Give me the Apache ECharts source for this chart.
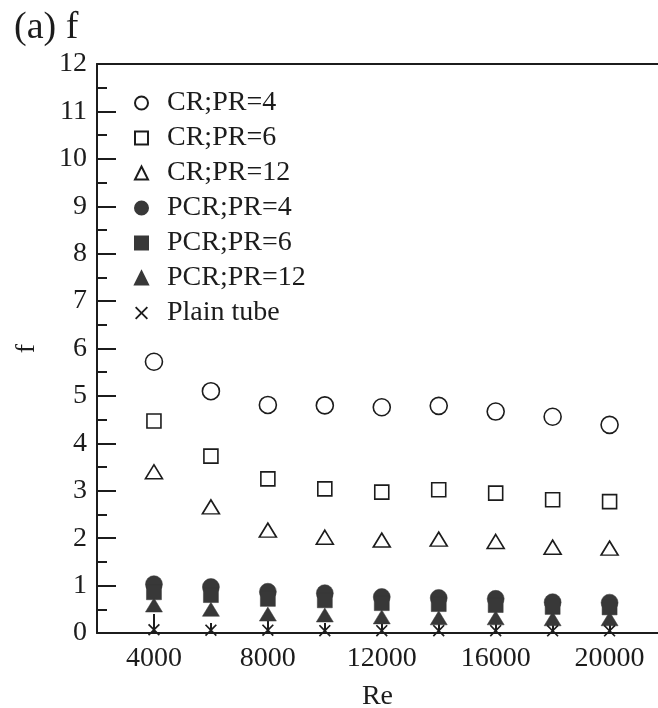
<!DOCTYPE html>
<html>
<head>
<meta charset="utf-8">
<style>
  html, body { margin: 0; padding: 0; background: #fff; }
  #chart { width: 658px; height: 708px; }
</style>
<script src="https://cdn.jsdelivr.net/npm/echarts@6/dist/echarts.min.js"></script>
</head>
<body>
<div id="chart"></div>
<script>
// Friction factor f versus Reynolds number
const reynolds = [4000, 6000, 8000, 10000, 12000, 14000, 16000, 18000, 20000];
const crPr4   = [5.72, 5.10, 4.81, 4.80, 4.76, 4.79, 4.67, 4.56, 4.39];
const crPr6   = [4.47, 3.73, 3.25, 3.04, 2.97, 3.02, 2.95, 2.81, 2.77];
const crPr12  = [3.40, 2.66, 2.17, 2.02, 1.96, 1.98, 1.93, 1.81, 1.79];
const pcrPr4  = [1.03, 0.97, 0.87, 0.84, 0.76, 0.74, 0.72, 0.65, 0.64];
const pcrPr6  = [0.86, 0.80, 0.72, 0.69, 0.63, 0.61, 0.59, 0.55, 0.54];
const pcrPr12 = [0.59, 0.50, 0.40, 0.38, 0.34, 0.32, 0.32, 0.30, 0.30];
const plainTube = [0.07, 0.06, 0.06, 0.05, 0.05, 0.05, 0.05, 0.045, 0.045];

const seriesNames = ['CR;PR=4', 'CR;PR=6', 'CR;PR=12', 'PCR;PR=4', 'PCR;PR=6', 'PCR;PR=12', 'Plain tube'];
const xMajorTicks = [4000, 8000, 12000, 16000, 20000];
const xMinorTicks = [6000, 10000, 14000, 18000];

// visible Re range: the frame runs past the right edge of the page
const RE_MIN = 2000;
const RE_MAX = 21700;

const FONT = '"Liberation Serif", "Times New Roman", serif';
const INK = '#1c1c1c';
const FILL = '#383838';
const CROSS = 'path://M0,1L1,0L5,4L9,0L10,1L6,5L10,9L9,10L5,6L1,10L0,9L4,5Z';

function pairs(ys) { return reynolds.map((x, i) => [x, ys[i]]); }

function openSeries(name, ys, symbol, size) {
  return {
    name, type: 'scatter', data: pairs(ys), symbol, symbolSize: size,
    itemStyle: { color: '#fff', borderColor: INK, borderWidth: 1.6, opacity: 1 }
  };
}
function filledSeries(name, ys, symbol, size) {
  return {
    name, type: 'scatter', data: pairs(ys), symbol, symbolSize: size,
    itemStyle: { color: FILL, borderColor: FILL, borderWidth: 0.5, opacity: 1 }
  };
}

const chart = echarts.init(document.getElementById('chart'), null, { renderer: 'canvas' });

chart.setOption({
  backgroundColor: '#fff',
  animation: false,
  grid: { left: 97, top: 64, right: 0, bottom: 75, outerBoundsMode: 'none', containLabel: false },
  graphic: [{
    type: 'text', left: 14, top: 9,
    style: { text: '(a) f', font: '38px ' + FONT, fill: INK }
  }],
  legend: {
    orient: 'vertical', left: 129, top: 84,
    itemWidth: 13, itemHeight: 13, itemGap: 7,
    data: seriesNames,
    textStyle: { fontFamily: FONT, fontSize: 28, color: INK, lineHeight: 28, padding: [0, 0, 0, 14] }
  },
  xAxis: [{
    type: 'value', min: RE_MIN, max: RE_MAX, position: 'bottom',
    name: 'Re', nameLocation: 'middle', nameGap: 50,
    nameTextStyle: { fontFamily: FONT, fontSize: 28, color: INK },
    axisLine: { show: true, lineStyle: { color: INK, width: 2 } },
    axisTick: { show: true, inside: true, length: 19, customValues: xMajorTicks, lineStyle: { color: INK, width: 2 } },
    axisLabel: {
      customValues: xMajorTicks, fontFamily: FONT, fontSize: 28, color: INK, margin: 12,
      formatter: v => String(v)
    },
    splitLine: { show: false }
  }, {
    type: 'value', min: RE_MIN, max: RE_MAX, position: 'bottom', offset: 0,
    axisLine: { show: false },
    axisTick: { show: true, inside: true, length: 10, customValues: xMinorTicks, lineStyle: { color: INK, width: 2 } },
    axisLabel: { show: false },
    splitLine: { show: false }
  }, {
    type: 'value', min: RE_MIN, max: RE_MAX, position: 'top',
    axisLine: { show: true, lineStyle: { color: INK, width: 2 } },
    axisTick: { show: false },
    axisLabel: { show: false },
    splitLine: { show: false }
  }],
  yAxis: {
    type: 'value', min: 0, max: 12, interval: 1,
    name: 'f', nameLocation: 'middle', nameGap: 56, nameRotate: 90,
    nameTextStyle: { fontFamily: FONT, fontSize: 28, color: INK },
    axisLine: { show: true, lineStyle: { color: INK, width: 2 } },
    axisTick: { show: true, inside: true, length: 19, lineStyle: { color: INK, width: 2 } },
    minorTick: { show: true, splitNumber: 2, length: 10, lineStyle: { color: INK, width: 2 } },
    axisLabel: { fontFamily: FONT, fontSize: 28, color: INK, margin: 10 },
    splitLine: { show: false }
  },
  series: [
    openSeries('CR;PR=4', crPr4, 'circle', 17),
    openSeries('CR;PR=6', crPr6, 'rect', 14),
    openSeries('CR;PR=12', crPr12, 'triangle', [17, 14]),
    filledSeries('PCR;PR=4', pcrPr4, 'circle', 17),
    filledSeries('PCR;PR=6', pcrPr6, 'rect', 15),
    filledSeries('PCR;PR=12', pcrPr12, 'triangle', [17, 14]),
    {
      name: 'Plain tube', type: 'scatter', data: pairs(plainTube), symbol: CROSS, symbolSize: 12,
      itemStyle: { color: INK, opacity: 1 }
    }
  ]
});
</script>
</body>
</html>
